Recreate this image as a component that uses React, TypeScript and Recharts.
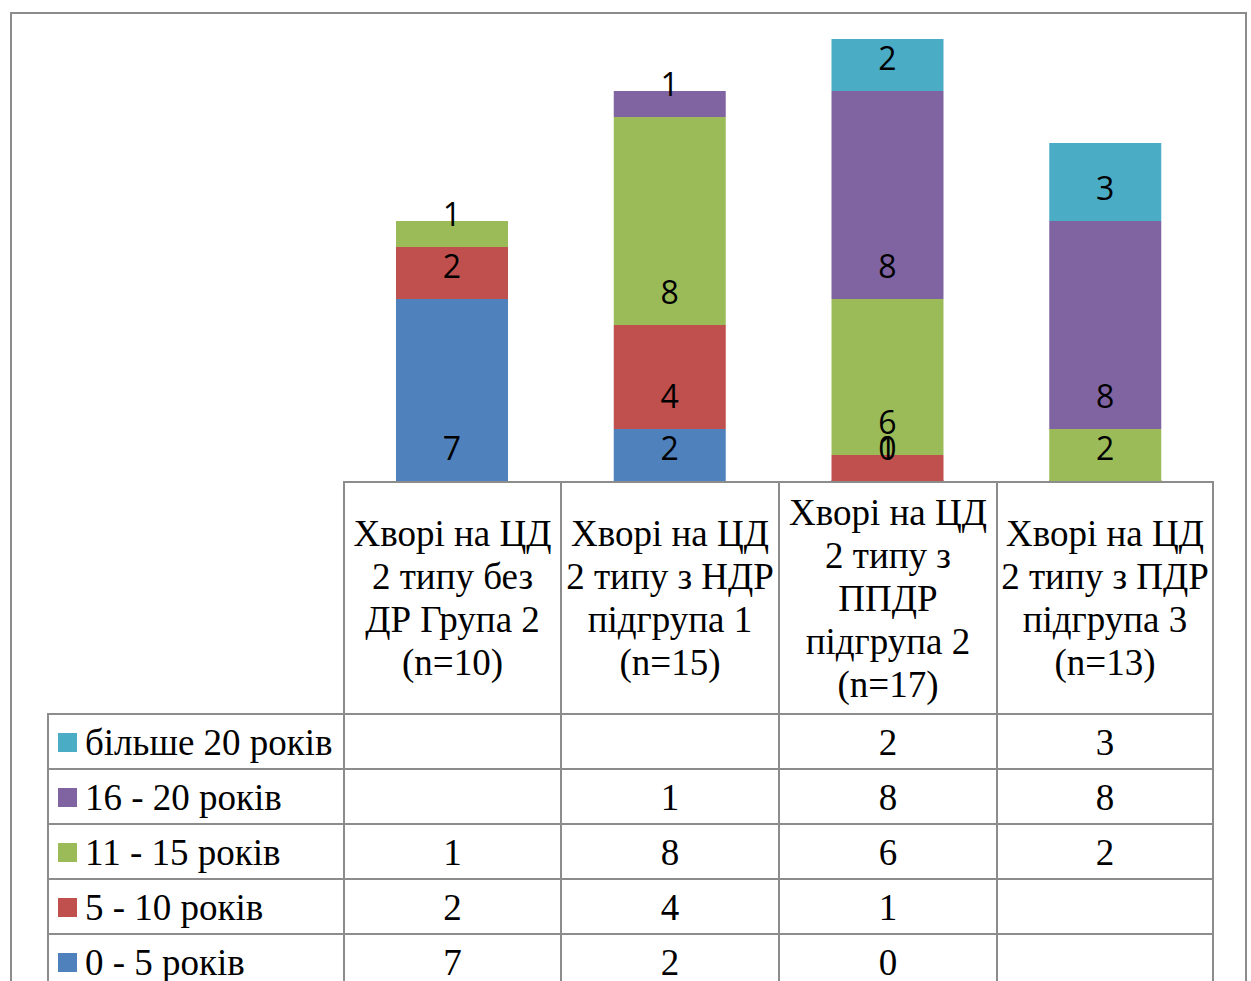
import { BarChart, Bar, XAxis, YAxis, LabelList } from 'recharts';

const categories = [
  ['Хворі на ЦД', '2 типу без', 'ДР Група 2', '(n=10)'],
  ['Хворі на ЦД', '2 типу з НДР', 'підгрупа 1', '(n=15)'],
  ['Хворі на ЦД', '2 типу з', 'ППДР', 'підгрупа 2', '(n=17)'],
  ['Хворі на ЦД', '2 типу з ПДР', 'підгрупа 3', '(n=13)'],
];

const years0to5 = [7, 2, 0, null];
const years5to10 = [2, 4, 1, null];
const years11to15 = [1, 8, 6, 2];
const years16to20 = [null, 1, 8, 8];
const over20 = [null, null, 2, 3];

const series = [
  { key: 'y0', name: '0 - 5 років', color: '#4F81BD', values: years0to5 },
  { key: 'y5', name: '5 - 10 років', color: '#C0504D', values: years5to10 },
  { key: 'y11', name: '11 - 15 років', color: '#9BBB59', values: years11to15 },
  { key: 'y16', name: '16 - 20 років', color: '#8064A2', values: years16to20 },
  { key: 'y20', name: 'більше 20 років', color: '#4BACC6', values: over20 },
];

const data = categories.map((lines, i) => {
  const row: Record<string, any> = { name: lines.join(' ') };
  series.forEach((s) => { row[s.key] = s.values[i]; });
  return row;
});

const GRID = '#8c8c8c';
const SERIF = '"Liberation Serif", "Times New Roman", serif';
const FONT_SIZE = 37;
const colX = [47, 343, 560, 778, 996, 1214];
const headerTop = 481;
const headerBottom = 713;
const rowH = 55;

// labels sit just above the base of each segment
const SegmentLabel = (props: any) => {
  const { x, y, width, height, value } = props;
  if (value === null || value === undefined) return null;
  const cy = Number(y) + Number(height) - 34;
  return (
    <text x={Number(x) + Number(width) / 2} y={cy} textAnchor="middle" dominantBaseline="central"
      fontFamily='"Open Sans", sans-serif' fontSize={32} fill="#000">
      {value}
    </text>
  );
};

// zero values still get a (hidden) 1px segment so their label is drawn
const keepZero = (v: any) => (v === 0 ? 1 : 0);

const border = `2px solid ${GRID}`;

export default function App() {
  const tableRows = [...series].reverse();
  return (
    <div style={{ position: 'absolute', left: 0, top: 0, width: 1251, height: 981, overflow: 'hidden', background: '#fff' }}>
      <div style={{ position: 'absolute', left: 10, top: 12, width: 1233, height: 1000, border }} />

      <div style={{ position: 'absolute', left: colX[1], top: 13 }}>
        <BarChart width={colX[5] - colX[1]} height={468} data={data} margin={{ top: 0, right: 0, bottom: 0, left: 0 }} barSize={112}>
          <XAxis dataKey="name" hide />
          <YAxis hide domain={[0, 18]} />
          {series.map((s) => (
            <Bar key={s.key} dataKey={s.key} stackId="a" fill={s.color} minPointSize={keepZero} isAnimationActive={false}>
              <LabelList dataKey={s.key} content={SegmentLabel} />
            </Bar>
          ))}
        </BarChart>
      </div>

      {/* data table: header cells */}
      {categories.map((lines, i) => (
        <div key={'h' + i} style={{
          position: 'absolute', left: colX[i + 1], top: headerTop, width: colX[i + 2] - colX[i + 1], height: headerBottom - headerTop,
          borderLeft: border, borderTop: border, borderRight: i === 3 ? border : undefined,
          boxSizing: 'border-box', display: 'flex', flexDirection: 'column', justifyContent: 'center', alignItems: 'center',
          fontFamily: SERIF, fontSize: FONT_SIZE, lineHeight: '43px', color: '#000', whiteSpace: 'nowrap',
        }}>
          {lines.map((l, j) => <div key={j}>{l}</div>)}
        </div>
      ))}

      {/* data table: series rows */}
      {tableRows.map((s, r) => {
        const top = headerBottom + r * rowH;
        return (
          <div key={s.key}>
            <div style={{
              position: 'absolute', left: colX[0], top, width: colX[1] - colX[0], height: rowH + 1,
              borderLeft: border, borderTop: border, boxSizing: 'border-box',
              display: 'flex', alignItems: 'center', fontFamily: SERIF, fontSize: FONT_SIZE, color: '#000', whiteSpace: 'nowrap',
            }}>
              <span style={{ display: 'inline-block', width: 19, height: 19, background: s.color, marginLeft: 9, marginRight: 8 }} />
              <span>{s.name}</span>
            </div>
            {s.values.map((v, i) => (
              <div key={i} style={{
                position: 'absolute', left: colX[i + 1], top, width: colX[i + 2] - colX[i + 1], height: rowH + 1,
                borderLeft: border, borderTop: border, borderRight: i === 3 ? border : undefined,
                boxSizing: 'border-box', display: 'flex', alignItems: 'center', justifyContent: 'center',
                fontFamily: SERIF, fontSize: FONT_SIZE, color: '#000',
              }}>
                {v === null ? '' : v}
              </div>
            ))}
          </div>
        );
      })}
    </div>
  );
}
